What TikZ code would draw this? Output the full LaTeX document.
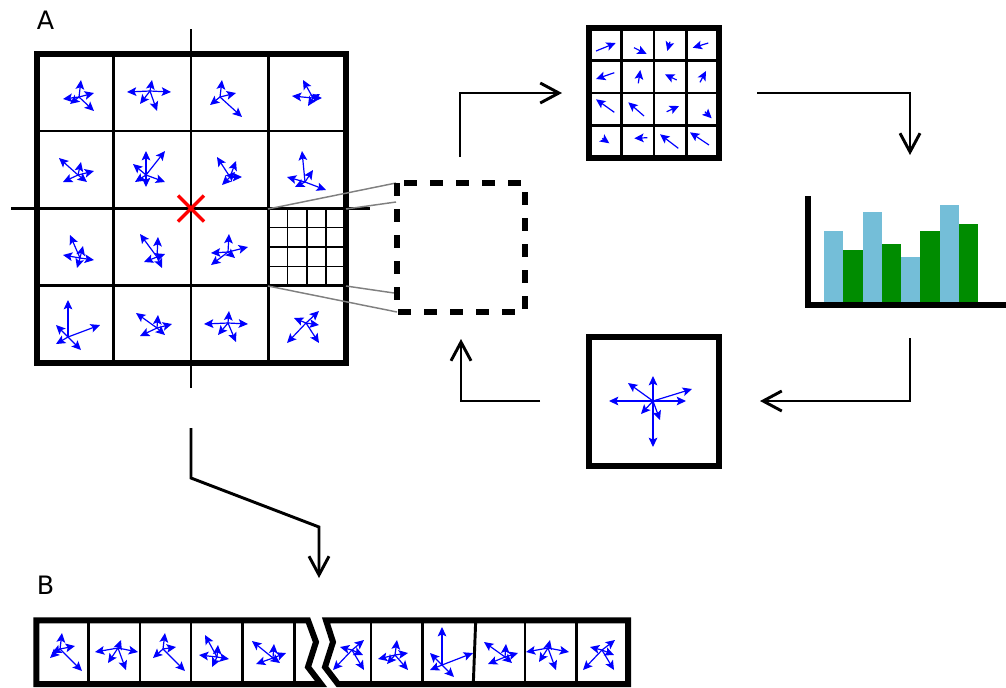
\documentclass[tikz,border=0pt]{standalone}
\usepackage{fontspec}
\setmainfont{DejaVu Sans}
\usetikzlibrary{arrows.meta}
\definecolor{barblue}{RGB}{116,190,216}
\definecolor{bargreen}{RGB}{0,140,0}
\definecolor{crossred}{RGB}{255,0,0}
\tikzset{
  vec/.style={blue,line width=0.9pt,-{Stealth[length=7pt,width=6.5pt,inset=1.5pt]}},
  flow/.style={line width=2.2pt,-{Straight Barb[length=14pt,width=15pt]}},
  thickframe/.style={line width=4.5pt},
  cellline/.style={line width=1.9pt},
  fineline/.style={line width=1.2pt},
  zoomline/.style={gray,line width=1.1pt},
  panel/.style={inner sep=0pt,font=\fontsize{19}{23}\selectfont}
}
\newcommand{\vstar}[3]{\foreach \dx/\dy in {#3}{\draw[vec] (#1,#2) -- ++(\dx,\dy);}}

\begin{document}
\begin{tikzpicture}[x=0.75pt,y=-0.75pt]
\useasboundingbox (0,0) rectangle (1006,687);
\node[panel] (labA) at (45.5,20) {A};
\node[panel] (labB) at (45.5,585.5) {B};
% grid A
\draw[thickframe] (36.5,53.5) rectangle (345.5,363);
\foreach \k in {1,2,3} {
  \draw[cellline] ({36.5+\k*77.25},53.5) -- ({36.5+\k*77.25},363);
  \draw[cellline] (36.5,{53.5+\k*77.375}) -- (345.5,{53.5+\k*77.375});
  \draw[fineline] ({268.25+\k*19.3},208.25) -- ({268.25+\k*19.3},285.6);
  \draw[fineline] (268.25,{208.25+\k*19.35}) -- (345.5,{208.25+\k*19.35});
}
\draw[cellline] (191,29) -- (191,388);
\draw[cellline] (11,208.5) -- (370,208.5);
\draw[crossred,line width=2.4pt] (178,195.5) -- (204,221.5) (178,221.5) -- (204,195.5);
\vstar{79}{97}{2/-17,-16/2,15/-4,15/14,-9/7}
\vstar{150}{91}{-23/1,21/1,2/-11,7/20,-10/13}
\vstar{220}{97}{2/-17,22/20,16/-4,-10/8}
\vstar{313}{98}{-10/-18,-21/-2,9/0,-5/8,7/-4}
\vstar{78}{175}{-19/-17,3/-13,16/-4,-15/7,9/7}
\vstar{146}{175}{0/-24,19/-24,0/12,19/7,-13/-11,-11/7}
\vstar{230}{177}{-13/-20,6/-16,12/0,-8/8,5/-5}
\vstar{305}{182}{-3/-31,21/8,-18/-5,8/-12,-10/5}
\vstar{80}{258}{-10/-23,3/-12,14/2,-17/-3,-3/10}
\vstar{157}{257}{-17/-23,1/-20,8/-3,5/11,-13/5}
\vstar{228}{252}{1/-18,20/-5,-17/1,-17/13,7/6}
\vstar{68}{337}{0/-37,32/-12,-12/-12,-12/7,13/13}
\vstar{157}{328}{-21/-15,1/-13,15/-4,-17/8,8/7}
\vstar{228}{323}{-24/1,20/1,1/-12,-10/12,8/19}
\vstar{306}{323}{-12/-5,13/-12,13/2,-19/20,13/20}
% zoom
\draw[zoomline] (268,209) -- (396,183) (346,209) -- (396,202);
\draw[zoomline] (346,286) -- (394,293) (268,286) -- (397,312);
\draw[line width=4.5pt,dash pattern=on 9.75pt off 9.75pt] (396.5,183) rectangle (525,311.5);
% descriptor grid
\draw[thickframe] (589,28) rectangle (719,158);
\foreach \k in {1,2,3} {
  \draw[line width=2.2pt] ({589+\k*32.5},28) -- ({589+\k*32.5},158);
  \draw[line width=2.2pt] (589,{28+\k*32.5}) -- (719,{28+\k*32.5});
}
\foreach \xa/\ya/\xb/\yb in {596/51/615.7/43, 634/47.7/646.7/54, 670/41.7/667.3/51, 708.3/43/692.7/47.7,
  614.3/72.7/596/79, 638.3/83.3/640.3/70, 676.7/80/665/74.3, 700/82.3/706/71,
  614.3/112.3/596/99.3, 644/116/628.3/102.3, 666.7/111.7/679/106, 705/111.7/711.7/118.3,
  602.3/138.3/609.3/143.3, 647.3/137.7/634.3/138.3, 678.3/148.3/660/134.3, 709/145/690/132.3}
  \draw[vec] (\xa,\ya) -- (\xb,\yb);
% histogram
\foreach \i/\top/\col in {0/231/barblue,1/250/bargreen,2/211.7/barblue,3/243.7/bargreen,
  4/256.7/barblue,5/231/bargreen,6/205/barblue,7/224.3/bargreen}
  \fill[\col] ({824+\i*19.25},\top) rectangle ({843.25+\i*19.25},302);
\draw[thickframe] (808,196) |- (1006,304.7);
% mean vectors
\draw[thickframe] (589,337) rectangle (719,466);
\vstar{653}{401}{0/-25,0/46,-44/0,33/0,-25/-18,39/-12,-12/13,7/19}
% connectors
\coordinate (zoomout) at (460,157);
\coordinate (gridin) at (562,93);
\coordinate (gridout) at (757,93);
\coordinate (histin) at (910,155);
\coordinate (histout) at (910,338);
\coordinate (meanin) at (760,401);
\coordinate (meanout) at (540,401);
\coordinate (zoomin) at (461,339);
\coordinate (crossout) at (191,428);
\coordinate (bend1) at (191,478);
\coordinate (bend2) at (319,527);
\coordinate (stripin) at (319,578);
\draw[flow] (zoomout) |- (gridin);
\draw[flow] (gridout) -| (histin);
\draw[flow] (histout) |- (meanin);
\draw[flow] (meanout) -| (zoomin);
\draw[flow] (crossout) -- (bend1) -- (bend2) -- (stripin);
% strip B
\draw[thickframe] (308,620.3) -- (36.3,620.3) -- (36.3,684) -- (321,684) -- (308,667) -- (316,642) -- cycle;
\draw[thickframe] (326,620.3) -- (628,620.3) -- (628,684) -- (338,684) -- (325,667) -- (333,642) -- cycle;
\foreach \xs in {88.3,140,191,242.7,294.3,371,422.7,525,576.7}
  \draw[line width=2.2pt] (\xs,620.3) -- (\xs,684);
\draw[line width=2.2pt] (475.7,620.3) -- (473.3,684);
\vstar{60}{649}{2/-16,15/-3,-10/9,22/22,-8/4}
\vstar{118}{648}{-23/4,20/4,3/-8,8/22,-10/15}
\vstar{163}{649}{2/-16,13/-2,-10/9,22/22}
\vstar{217}{657}{-12/-22,1/-12,12/2,-18/-2,-5/10}
\vstar{273}{658}{-21/-17,1/-14,13/-5,-17/6,7/5}
\vstar{352}{650}{12/-10,-12/-3,11/5,12/20,-19/20}
\vstar{395}{655}{2/-15,13/-2,-17/4,-8/9,13/15}
\vstar{442}{665}{0/-38,31/-12,-12/-12,-12/5,12/12}
\vstar{505}{657}{-21/-15,1/-13,13/-4,-17/7,7/6}
\vstar{548}{648}{-22/4,21/4,2/-8,8/22,-9/14}
\vstar{602}{650}{13/-10,-12/-3,12/5,12/20,-19/20}
\end{tikzpicture}
\end{document}
